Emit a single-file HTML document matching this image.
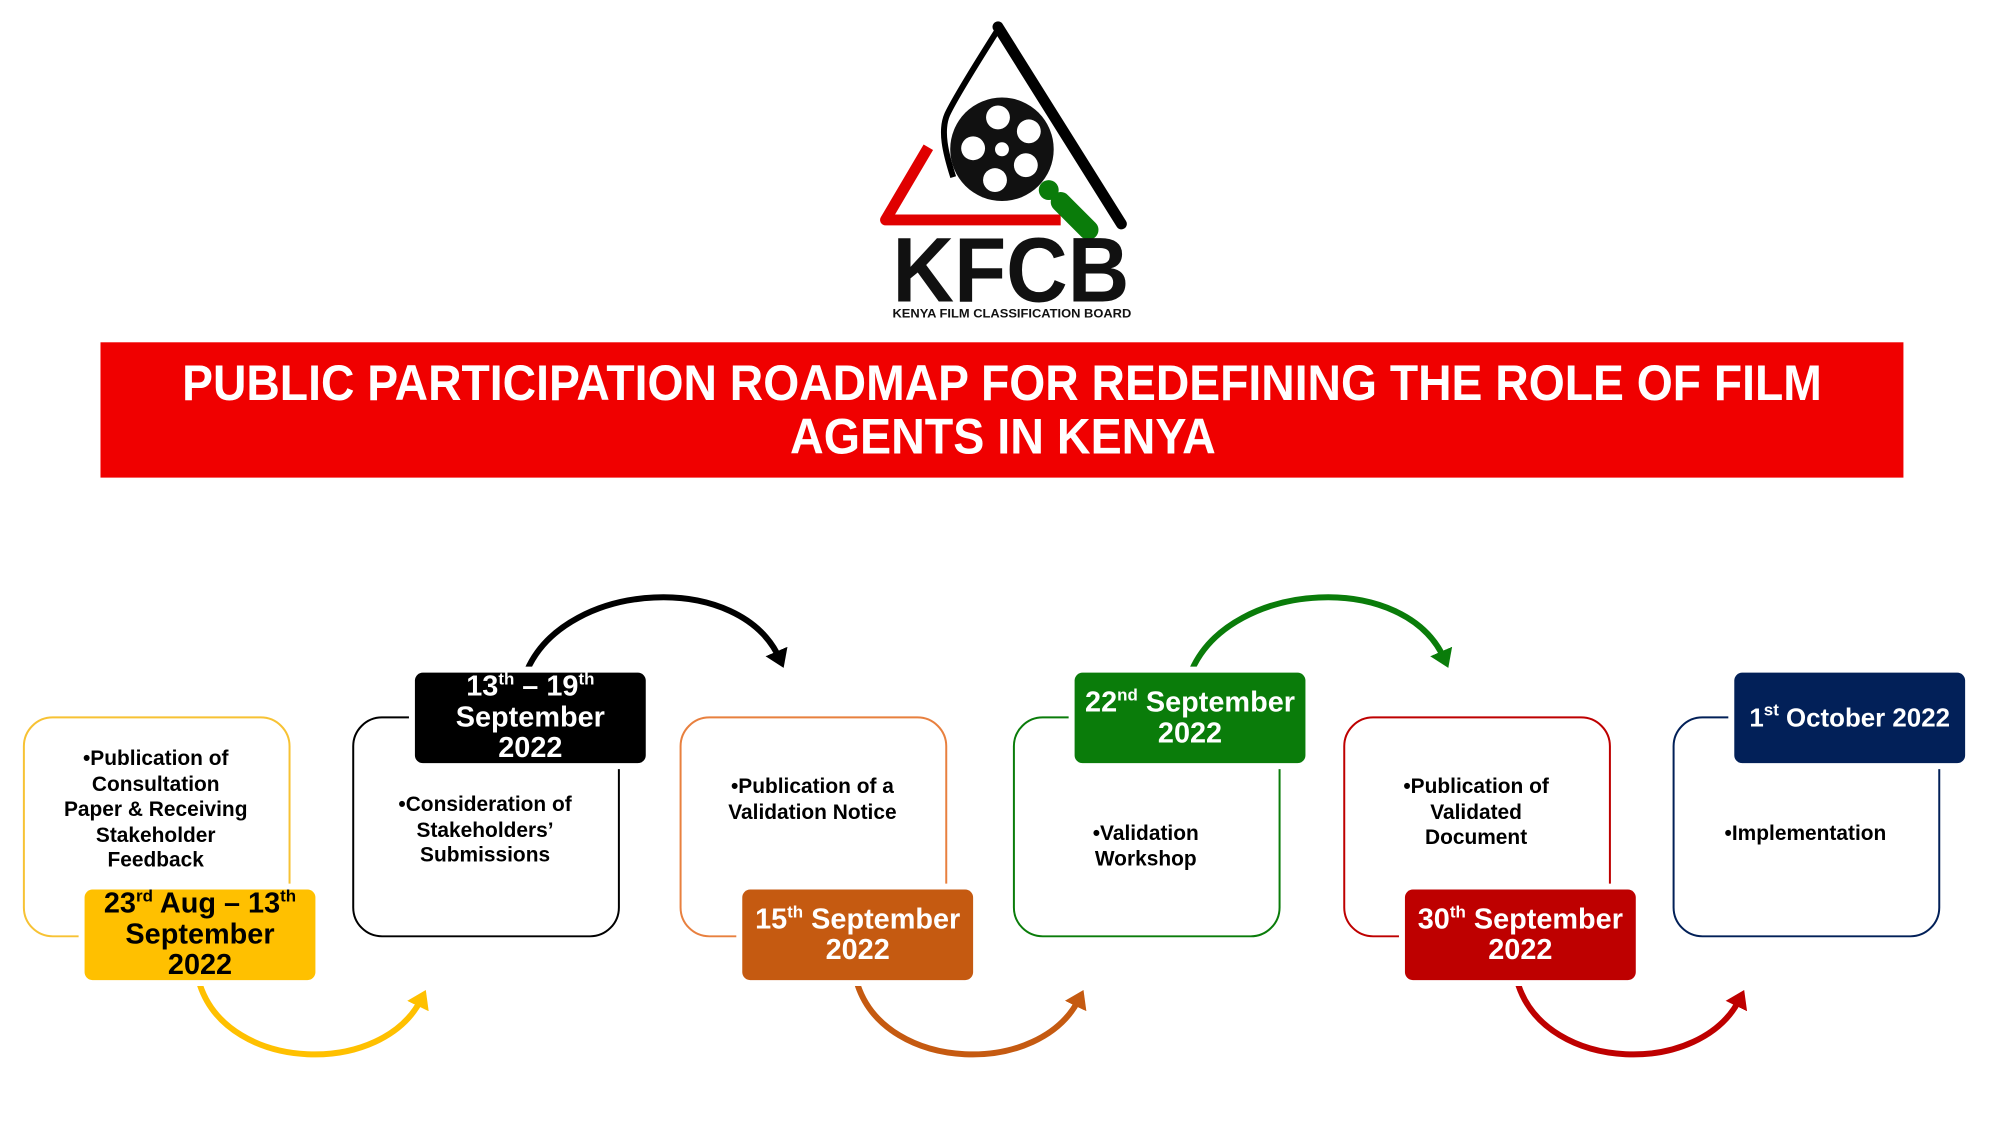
<!DOCTYPE html>
<html><head><meta charset="utf-8"><style>
html,body{margin:0;padding:0;background:#fff;}
body{width:2000px;height:1125px;position:relative;overflow:hidden;font-family:"Liberation Sans","DejaVu Sans",sans-serif;}
#w{position:absolute;left:0;top:0;width:2000px;height:1125px;transform:translate(0,3px) scale(0.995);transform-origin:0 0;}
.box{position:absolute;top:717px;width:265px;height:218px;border:2px solid;border-radius:30px;box-sizing:content-box;}
.txt{position:absolute;width:267px;text-align:center;font-weight:bold;font-size:21px;line-height:25.5px;color:#000;}
.date{position:absolute;width:232px;height:91px;border-radius:8px;color:#fff;font-weight:bold;font-size:29px;line-height:31px;text-align:center;display:flex;align-items:center;justify-content:center;box-shadow:0 0 0 6px #fff;}
.date > div{display:block;width:100%;white-space:nowrap;}
sup{font-size:17px;line-height:0;vertical-align:11px;}
</style></head><body><div id="w">

<svg width="2000" height="1125" style="position:absolute;left:0;top:0">
<defs>
<marker id="my" markerWidth="4" markerHeight="4" refX="1.5" refY="2" orient="auto" markerUnits="strokeWidth"><path d="M0,0 L3,2 L0,4 Z" fill="#FFC000"/></marker>
<marker id="mo" markerWidth="4" markerHeight="4" refX="1.5" refY="2" orient="auto" markerUnits="strokeWidth"><path d="M0,0 L3,2 L0,4 Z" fill="#C55A11"/></marker>
<marker id="mr" markerWidth="4" markerHeight="4" refX="1.5" refY="2" orient="auto" markerUnits="strokeWidth"><path d="M0,0 L3,2 L0,4 Z" fill="#BE0000"/></marker>
<marker id="mk" markerWidth="4" markerHeight="4" refX="1.5" refY="2" orient="auto" markerUnits="strokeWidth"><path d="M0,0 L3,2 L0,4 Z" fill="#000"/></marker>
<marker id="mg" markerWidth="4" markerHeight="4" refX="1.5" refY="2" orient="auto" markerUnits="strokeWidth"><path d="M0,0 L3,2 L0,4 Z" fill="#0A7C0A"/></marker>
</defs>
<!-- logo -->
<path d="M1003,24 L1127,222" stroke="#000" stroke-width="11" stroke-linecap="round" fill="none"/>
<path d="M1006,22 C985,55 960,95 952,112 C945,128 950,150 958,175" stroke="#000" stroke-width="6" fill="none"/>
<path d="M933,145 L890,218 L1066,218" stroke="#E00000" stroke-width="11" stroke-linejoin="round" fill="none"/>
<circle cx="1007" cy="147" r="52" fill="#111"/>
<g fill="#fff">
<circle cx="1007" cy="147" r="7"/>
<circle cx="1003" cy="115" r="12"/><circle cx="1034" cy="129" r="12"/><circle cx="1031" cy="163" r="12"/>
<circle cx="1000" cy="178" r="12"/><circle cx="978" cy="146" r="12"/>
</g>
<circle cx="1054" cy="188" r="10" fill="#0A7C0A"/>
<path d="M1066,200 L1094,228" stroke="#0A7C0A" stroke-width="20" stroke-linecap="round"/>
<text x="1016" y="300" text-anchor="middle" font-family="Liberation Sans" font-weight="bold" font-size="92" textLength="238" lengthAdjust="spacingAndGlyphs" fill="#111">KFCB</text>
<text x="1017" y="316" text-anchor="middle" font-family="Liberation Sans" font-weight="bold" font-size="12" textLength="240" lengthAdjust="spacingAndGlyphs" fill="#111">KENYA FILM CLASSIFICATION BOARD</text>
<!-- banner -->
<rect x="101" y="341" width="1812" height="136" fill="#F00000"/>
<text x="1007" y="399" text-anchor="middle" font-family="Liberation Sans" font-weight="bold" font-size="50" fill="#fff" textLength="1648" lengthAdjust="spacingAndGlyphs">PUBLIC PARTICIPATION ROADMAP FOR REDEFINING THE ROLE OF FILM</text>
<text x="1008" y="453" text-anchor="middle" font-family="Liberation Sans" font-weight="bold" font-size="50" fill="#fff" textLength="428" lengthAdjust="spacingAndGlyphs">AGENTS IN KENYA</text>
<!-- arcs -->
<path d="M201,987 C230,1075 385,1080 424,1000" stroke="#FFC000" stroke-width="6" fill="none" marker-end="url(#my)"/>
<path d="M862,987 C891,1075 1046,1080 1085,1000" stroke="#C55A11" stroke-width="6" fill="none" marker-end="url(#mo)"/>
<path d="M1526,987 C1555,1075 1710,1080 1749,1000" stroke="#BE0000" stroke-width="6" fill="none" marker-end="url(#mr)"/>
<path d="M530,670 C570,580 745,570 784,660" stroke="#000" stroke-width="6" fill="none" marker-end="url(#mk)"/>
<path d="M1198,670 C1238,580 1413,570 1452,660" stroke="#0A7C0A" stroke-width="6" fill="none" marker-end="url(#mg)"/>
</svg>

<div class="box" style="left:23px;border-color:#F7C234"></div>
<div class="box" style="left:354px;border-color:#000"></div>
<div class="box" style="left:683px;border-color:#E8803F"></div>
<div class="box" style="left:1018px;border-color:#0A7C0A"></div>
<div class="box" style="left:1350px;border-color:#BE0000"></div>
<div class="box" style="left:1681px;border-color:#022058"></div>

<div class="txt" style="left:23px;top:747px">•Publication of<br>Consultation<br>Paper &amp; Receiving<br>Stakeholder<br>Feedback</div>
<div class="txt" style="left:354px;top:793px">•Consideration of<br>Stakeholders’<br>Submissions</div>
<div class="txt" style="left:683px;top:775px">•Publication of a<br>Validation Notice</div>
<div class="txt" style="left:1018px;top:822px">•Validation<br>Workshop</div>
<div class="txt" style="left:1350px;top:775px">•Publication of<br>Validated<br>Document</div>
<div class="txt" style="left:1681px;top:822px">•Implementation</div>

<div class="date" style="left:85px;top:891px;background:#FFC000;color:#000"><div>23<sup>rd</sup> Aug – 13<sup>th</sup><br>September<br>2022</div></div>
<div class="date" style="left:417px;top:673px;background:#000"><div>13<sup>th</sup> – 19<sup>th</sup><br>September<br>2022</div></div>
<div class="date" style="left:746px;top:891px;background:#C55A11"><div>15<sup>th</sup> September<br>2022</div></div>
<div class="date" style="left:1080px;top:673px;background:#0A7C0A"><div>22<sup>nd</sup> September<br>2022</div></div>
<div class="date" style="left:1412px;top:891px;background:#BE0000"><div>30<sup>th</sup> September<br>2022</div></div>
<div class="date" style="left:1743px;top:673px;background:#022058;font-size:26px"><div>1<sup>st</sup> October 2022</div></div>
</div></body></html>
